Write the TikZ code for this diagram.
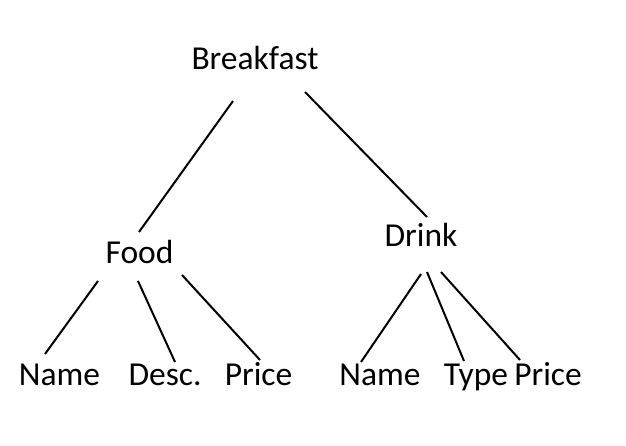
\documentclass[tikz,border=0pt]{standalone}
\usepackage{fontspec}
\setmainfont{Carlito}
\usepackage{tikz}

\begin{document}
\begin{tikzpicture}[x=1pt, y=-1pt, every node/.style={font=\fontsize{33.5}{38}\selectfont, anchor=base, inner sep=0pt},
		link/.style={line width=2pt}]
			\useasboundingbox (0,0) rectangle (626,446);

			% Nodes
			\node (breakfast) at (255,70) {Breakfast};
			\node (food) at (139.5,263) {Food};
			\node (drink) at (421,247) {Drink};
			\node (fname) at (59.5,385) {Name};
			\node (fdesc) at (165,385) {Desc.};
			\node (fprice) at (258.5,385) {Price};
			\node (dname) at (380,385) {Name};
			\node (dtype) at (476,385) {Type};
			\node (dprice) at (548,385) {Price};

			% Link ends
			\coordinate (b-l) at (233,101);
			\coordinate (b-r) at (305,92);
			\coordinate (f-t) at (139,232);
			\coordinate (d-t) at (427,217);
			\coordinate (f-1) at (98,281);
			\coordinate (f-2) at (138,281);
			\coordinate (f-3) at (182,275);
			\coordinate (fn-t) at (45,354);
			\coordinate (fd-t) at (175,362);
			\coordinate (fp-t) at (260,360);
			\coordinate (d-1) at (421,274);
			\coordinate (d-2) at (427,272);
			\coordinate (d-3) at (441,272);
			\coordinate (dn-t) at (361,362);
			\coordinate (dt-t) at (464,361);
			\coordinate (dp-t) at (520,360);

			% Links
			\draw[link] (b-l) -- (f-t);
			\draw[link] (b-r) -- (d-t);
			\draw[link] (f-1) -- (fn-t);
			\draw[link] (f-2) -- (fd-t);
			\draw[link] (f-3) -- (fp-t);
			\draw[link] (d-1) -- (dn-t);
			\draw[link] (d-2) -- (dt-t);
			\draw[link] (d-3) -- (dp-t);
		\end{tikzpicture}
\end{document}
